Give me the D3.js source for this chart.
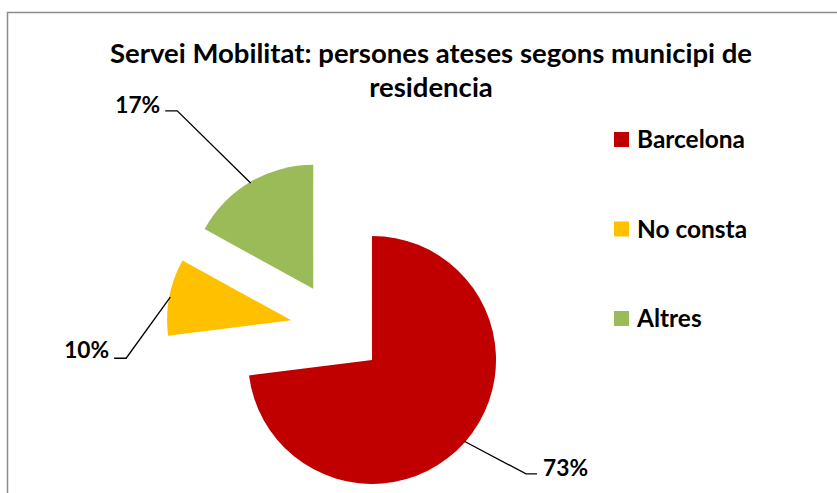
<!DOCTYPE html>
<html>
<head>
<meta charset="utf-8">
<script src="https://cdn.jsdelivr.net/npm/d3@7"></script>
<style>
  body { margin: 0; background: #fff; }
  text { font-family: Lato, "Open Sans", sans-serif; font-weight: 700; fill: #000; }
</style>
</head>
<body>
<script>
// data
const categories = ["Barcelona", "No consta", "Altres"];
const values = [73, 10, 17];
const colors = ["#C00000", "#FFC000", "#9BBB59"];
const titleLines = ["Servei Mobilitat: persones ateses segons municipi de", "residencia"];

// layout
const width = 837, height = 493;
const cx = 337, cy = 329, radius = 124, explode = 46.7;

// label placement relative to each slice apex: elbow, end of leader, text anchor
const labelLayout = [
  {elbow: [154, 114], end: [165, 114], text: [171, 116], anchor: "start"},
  {elbow: [-165, 38], end: [-177, 38], text: [-182, 38], anchor: "end"},
  {elbow: [-136, -178], end: [-148, -178], text: [-153, -176], anchor: "end"}
];

const svg = d3.select("body").append("svg")
    .attr("width", width)
    .attr("height", height);

// chart border
svg.append("rect")
    .attr("x", 7.5).attr("y", 12.5)
    .attr("width", width).attr("height", height)
    .attr("fill", "none")
    .attr("stroke", "#8c8c8c")
    .attr("stroke-width", 1.5);

// resize a text to a given width
function fitWidth(sel, target) {
  const w = sel.node().getComputedTextLength();
  const fs = parseFloat(sel.attr("font-size"));
  sel.attr("font-size", (fs * target / w).toFixed(2));
}

// title
const t1 = svg.append("text")
    .attr("x", 431).attr("y", 63)
    .attr("text-anchor", "middle")
    .attr("font-size", 24)
    .text(titleLines[0]);
fitWidth(t1, 642);
svg.append("text")
    .attr("x", 431).attr("y", 97)
    .attr("text-anchor", "middle")
    .attr("font-size", t1.attr("font-size"))
    .text(titleLines[1]);

// pie
const data = categories.map((c, i) => ({name: c, value: values[i], color: colors[i]}));
const pie = d3.pie().sort(null).value(d => d.value);
const arc = d3.arc().innerRadius(0).outerRadius(radius);
const arcs = pie(data);

const slices = svg.selectAll(".slice")
    .data(arcs)
    .enter()
    .append("g")
    .attr("class", "slice")
    .attr("transform", function(d) {
      const mid = (d.startAngle + d.endAngle) / 2;
      const x = cx + Math.sin(mid) * explode;
      const y = cy - Math.cos(mid) * explode;
      return "translate(" + x + "," + y + ")";
    });

slices.append("path")
    .attr("d", arc)
    .attr("fill", d => d.data.color);

// leader lines and percentage labels
slices.append("polyline")
    .attr("points", function(d, i) {
      const mid = (d.startAngle + d.endAngle) / 2;
      const l = labelLayout[i];
      const p0 = [Math.sin(mid) * (radius - 1), -Math.cos(mid) * (radius - 1)];
      return [p0, l.elbow, l.end].map(p => p.join(",")).join(" ");
    })
    .attr("fill", "none")
    .attr("stroke", "#000")
    .attr("stroke-width", 1.3);

const labels = slices.append("text")
    .attr("x", (d, i) => labelLayout[i].text[0])
    .attr("y", (d, i) => labelLayout[i].text[1])
    .attr("text-anchor", (d, i) => labelLayout[i].anchor)
    .attr("font-size", 21)
    .text(d => d3.format(".0%")(d.data.value / d3.sum(values)));
fitWidth(d3.select(labels.nodes()[0]), 45);
labels.attr("font-size", d3.select(labels.nodes()[0]).attr("font-size"));

// legend
const legend = svg.append("g").attr("transform", "translate(614,132)");
const items = legend.selectAll(".item")
    .data(data)
    .enter()
    .append("g")
    .attr("class", "item")
    .attr("transform", (d, i) => "translate(0," + (i * 89.5) + ")");
items.append("rect")
    .attr("width", 15).attr("height", 15)
    .attr("fill", d => d.color);
const legendText = items.append("text")
    .attr("x", 23).attr("y", 16)
    .attr("font-size", 22)
    .text(d => d.name);
fitWidth(d3.select(legendText.nodes()[0]), 108);
legendText.attr("font-size", d3.select(legendText.nodes()[0]).attr("font-size"));
</script>
</body>
</html>
